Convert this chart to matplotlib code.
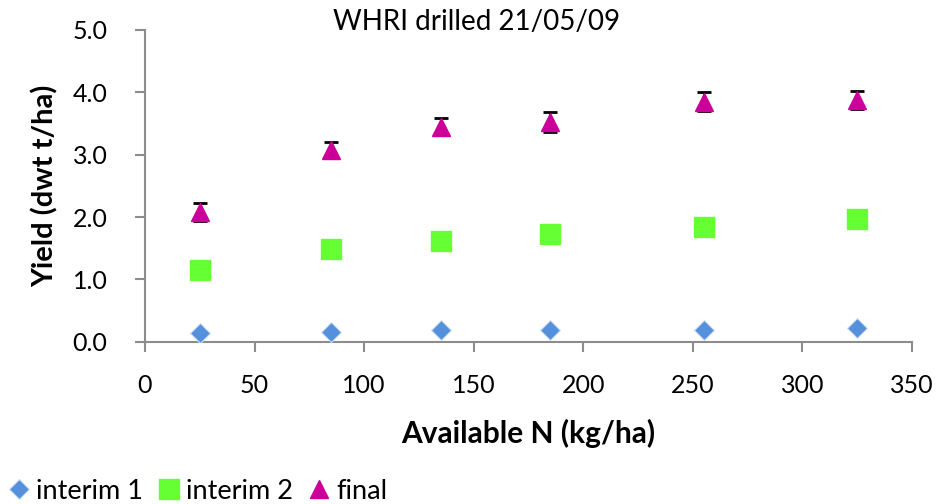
import matplotlib
matplotlib.use("Agg")
import matplotlib.pyplot as plt

x_n = [25, 85, 135, 185, 255, 325]
interim1 = [0.14, 0.15, 0.18, 0.18, 0.18, 0.22]
interim2 = [1.15, 1.48, 1.62, 1.73, 1.84, 1.97]
final = [2.08, 3.08, 3.45, 3.52, 3.85, 3.88]
final_err = [0.14, 0.12, 0.14, 0.16, 0.15, 0.14]
x_ticks = [0, 50, 100, 150, 200, 250, 300, 350]
y_ticks = [0.0, 1.0, 2.0, 3.0, 4.0, 5.0]

plt.rcParams['font.family'] = ['Lato', 'DejaVu Sans']

fig = plt.figure(figsize=(9.39, 5.04), dpi=100)
ax = fig.add_axes([145/939, 1-341.7/504, (912-145)/939, (341.7-30)/504])

spine_c = '#8c8c8c'
ax.errorbar(x_n, final, yerr=final_err, fmt='none', ecolor='black', elinewidth=1.2,
            capsize=5, capthick=2, zorder=2)
ax.plot(x_n, interim1, linestyle='none', marker='D', markersize=10,
        color='#5490dc', markeredgecolor='#cfe0f5', markeredgewidth=0.8, label='interim 1', zorder=3)
ax.plot(x_n, interim2, linestyle='none', marker='s', markersize=14,
        color='#66ff33', markeredgecolor='#66ff33', label='interim 2', zorder=3)
ax.plot(x_n, final, linestyle='none', marker='^', markersize=13,
        color='#cc0099', markeredgecolor='#cc0099', label='final', zorder=4)

ax.set_xlim(0, 350)
ax.set_ylim(0, 5)
ax.set_xticks(x_ticks)
ax.set_yticks(y_ticks)
ax.set_yticklabels([f"{v:.1f}" for v in y_ticks])
for s in ['top', 'right']:
    ax.spines[s].set_visible(False)
for s in ['left', 'bottom']:
    ax.spines[s].set_color(spine_c)
    ax.spines[s].set_linewidth(1.5)
ax.tick_params(axis='both', direction='out', color=spine_c, width=1.5, length=7,
               labelsize=18, labelcolor='black')
ax.tick_params(axis='x', pad=16)
ax.tick_params(axis='y', pad=20)

ax.set_xlabel('Available N (kg/ha)', fontsize=21.5, fontweight='bold', labelpad=16)
ax.set_ylabel('Yield (dwt t/ha)', fontsize=21, fontweight='bold', labelpad=10)
fig.text(477/939, 1-22/504, 'WHRI drilled 21/05/09', ha='center', va='center', fontsize=20)

fig.legend(loc='lower left', bbox_to_anchor=(-0.012, -0.032), ncol=3, frameon=False,
           fontsize=19.5, handletextpad=0.15, columnspacing=0.45, handlelength=1.0,
           borderaxespad=0.2)

fig.savefig('out.png', dpi=100)
